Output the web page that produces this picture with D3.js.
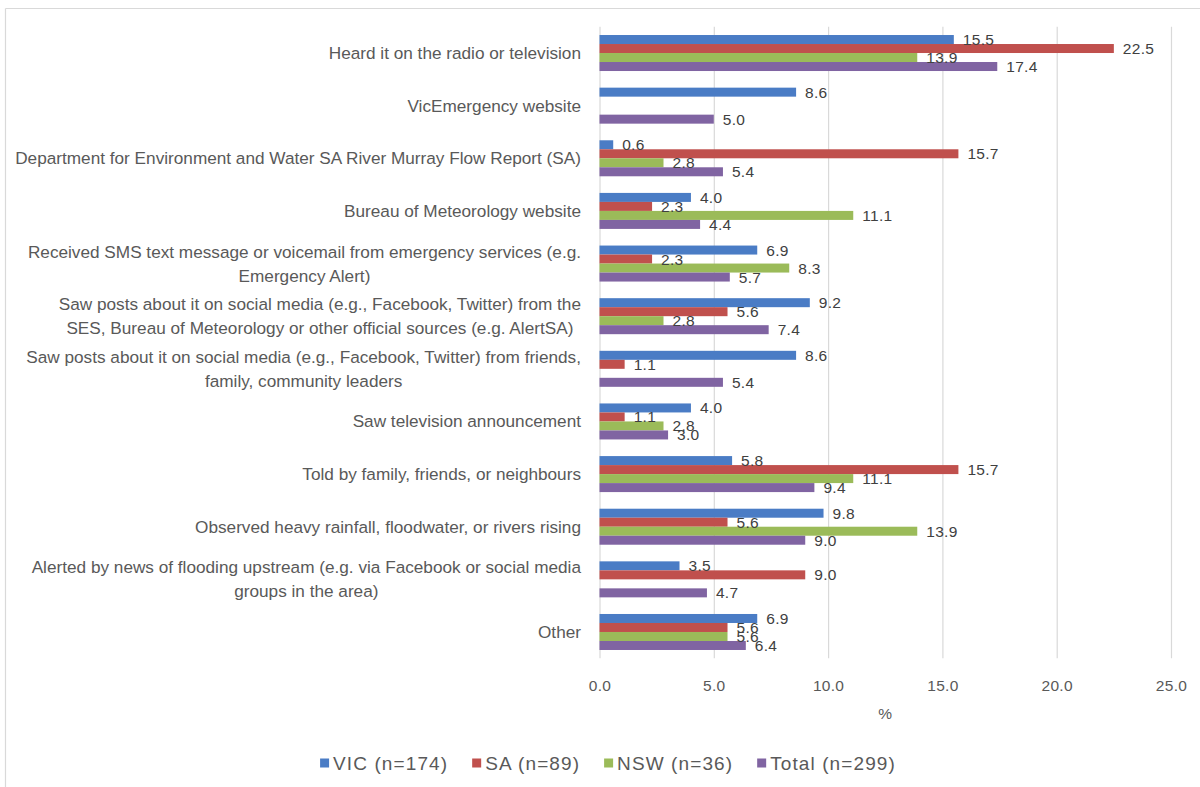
<!DOCTYPE html>
<html>
<head>
<meta charset="utf-8">
<script src="https://cdn.jsdelivr.net/npm/d3@7"></script>
<style>
  html, body { margin: 0; padding: 0; background: #ffffff; }
  svg { display: block; font-family: "Liberation Sans", Arial, sans-serif; }
</style>
</head>
<body>
<svg id="chart" width="1200" height="787"></svg>
<script>
// Information sources for flood warnings, by state (% of respondents)
const categories = [
  "Heard it on the radio or television",
  "VicEmergency website",
  "Department for Environment and Water SA River Murray Flow Report (SA)",
  "Bureau of Meteorology website",
  "Received SMS text message or voicemail from emergency services (e.g.\nEmergency Alert)",
  "Saw posts about it on social media (e.g., Facebook, Twitter) from the\nSES, Bureau of Meteorology or other official sources (e.g. AlertSA)",
  "Saw posts about it on social media (e.g., Facebook, Twitter) from friends,\nfamily, community leaders",
  "Saw television announcement",
  "Told by family, friends, or neighbours",
  "Observed heavy rainfall, floodwater, or rivers rising",
  "Alerted by news of flooding upstream (e.g. via Facebook or social media\ngroups in the area)",
  "Other"
];

const seriesNames = ["VIC (n=174)", "SA (n=89)", "NSW (n=36)", "Total (n=299)"];

const vicValues   = [15.5, 8.6, 0.6, 4.0, 6.9, 9.2, 8.6, 4.0, 5.8, 9.8, 3.5, 6.9];
const saValues    = [22.5, null, 15.7, 2.3, 2.3, 5.6, 1.1, 1.1, 15.7, 5.6, 9.0, 5.6];
const nswValues   = [13.9, null, 2.8, 11.1, 8.3, 2.8, null, 2.8, 11.1, 13.9, null, 5.6];
const totalValues = [17.4, 5.0, 5.4, 4.4, 5.7, 7.4, 5.4, 3.0, 9.4, 9.0, 4.7, 6.4];

const xTickValues = [0, 5, 10, 15, 20, 25];
const axisTitle = "%";

const seriesColors = ["#4A7CC5", "#C0504D", "#9BBB59", "#8064A2"];
const seriesValues = [vicValues, saValues, nswValues, totalValues];

const svg = d3.select("#chart");
const textColor = "#595959";
const gridColor = "#d9d9d9";

// chart-area frame (top and left edges)
svg.append("line").attr("x1", 5.5).attr("x2", 1200).attr("y1", 8.5).attr("y2", 8.5)
  .attr("stroke", "#d9d9d9").attr("stroke-width", 1.2);
svg.append("line").attr("x1", 5.5).attr("x2", 5.5).attr("y1", 8.5).attr("y2", 787)
  .attr("stroke", "#d9d9d9").attr("stroke-width", 1.2);

const plot = { left: 599.5, right: 1171, top: 26.7, bottom: 658.3 };

const x = d3.scaleLinear().domain([0, 25]).range([plot.left, plot.right]);
const y0 = d3.scaleBand()
  .domain(d3.range(categories.length))
  .range([plot.top, plot.bottom])
  .paddingInner(0.316)
  .paddingOuter(0.158);
const y1 = d3.scaleBand()
  .domain(d3.range(seriesNames.length))
  .range([0, y0.bandwidth()]);

// vertical gridlines + tick labels
const xAxis = d3.axisBottom(x)
  .tickValues(xTickValues)
  .tickFormat(d3.format(".1f"))
  .tickSize(-(plot.bottom - plot.top))
  .tickPadding(22);

const gx = svg.append("g")
  .attr("transform", `translate(0,${plot.bottom})`)
  .call(xAxis);
gx.select(".domain").remove();
gx.selectAll(".tick line").attr("stroke", gridColor).attr("stroke-width", 1.2);
gx.selectAll(".tick text")
  .attr("fill", textColor)
  .style("font-size", "15.5px")
  .style("letter-spacing", "0.3px")
  .style("font-family", "\"Liberation Sans\", Arial, sans-serif");

svg.append("text")
  .attr("x", (plot.left + plot.right) / 2)
  .attr("y", 713)
  .attr("text-anchor", "middle")
  .attr("dominant-baseline", "central")
  .attr("fill", textColor)
  .style("font-size", "15.5px")
  .text(axisTitle);

// bars
const rows = [];
categories.forEach((c, i) => {
  seriesValues.forEach((vals, s) => {
    if (vals[i] !== null) rows.push({ i, s, v: vals[i] });
  });
});

svg.append("g").selectAll("rect")
  .data(rows)
  .join("rect")
  .attr("x", x(0))
  .attr("y", d => y0(d.i) + y1(d.s))
  .attr("width", d => x(d.v) - x(0))
  .attr("height", y1.bandwidth())
  .attr("fill", d => seriesColors[d.s]);

// value labels
svg.append("g").selectAll("text")
  .data(rows)
  .join("text")
  .attr("x", d => x(d.v) + 9)
  .attr("y", d => y0(d.i) + y1(d.s) + y1.bandwidth() / 2)
  .attr("dominant-baseline", "central")
  .attr("fill", "#404040")
  .style("font-size", "15.5px")
  .style("letter-spacing", "0.3px")
  .text(d => d3.format(".1f")(d.v));

// category labels: block right-aligned, lines centred within block
const labelRight = 581;
const lineHeight = 24;
const catG = svg.append("g");
categories.forEach((c, i) => {
  const lines = c.split("\n");
  const t = catG.append("text")
    .attr("fill", textColor)
    .style("font-size", "17.2px")
    .attr("text-anchor", "middle");
  const cy = y0(i) + y0.bandwidth() / 2;
  const y0Line = cy - (lines.length - 1) * lineHeight / 2;
  const spans = lines.map((ln, k) => t.append("tspan")
    .attr("y", y0Line + k * lineHeight)
    .attr("dominant-baseline", "central")
    .text(ln));
  const maxW = d3.max(spans, sp => sp.node().getComputedTextLength());
  spans.forEach(sp => sp.attr("x", labelRight - maxW / 2));
});

// legend
const legend = svg.append("g");
let lx = 0;
const gap = 24;
seriesNames.forEach((name, s) => {
  const g = legend.append("g");
  g.append("rect").attr("x", 0).attr("y", -4.5).attr("width", 9).attr("height", 9)
    .attr("fill", seriesColors[s]);
  const t = g.append("text").attr("x", 13).attr("y", 0)
    .attr("dominant-baseline", "central")
    .attr("fill", textColor)
    .style("font-size", "19px")
    .style("letter-spacing", "1.1px")
    .text(name);
  const w = 13 + t.node().getComputedTextLength();
  g.attr("transform", `translate(${lx},0)`);
  lx += w + gap;
});
const legendWidth = lx - gap;
legend.attr("transform", `translate(${608 - legendWidth / 2},763)`);
</script>
</body>
</html>
